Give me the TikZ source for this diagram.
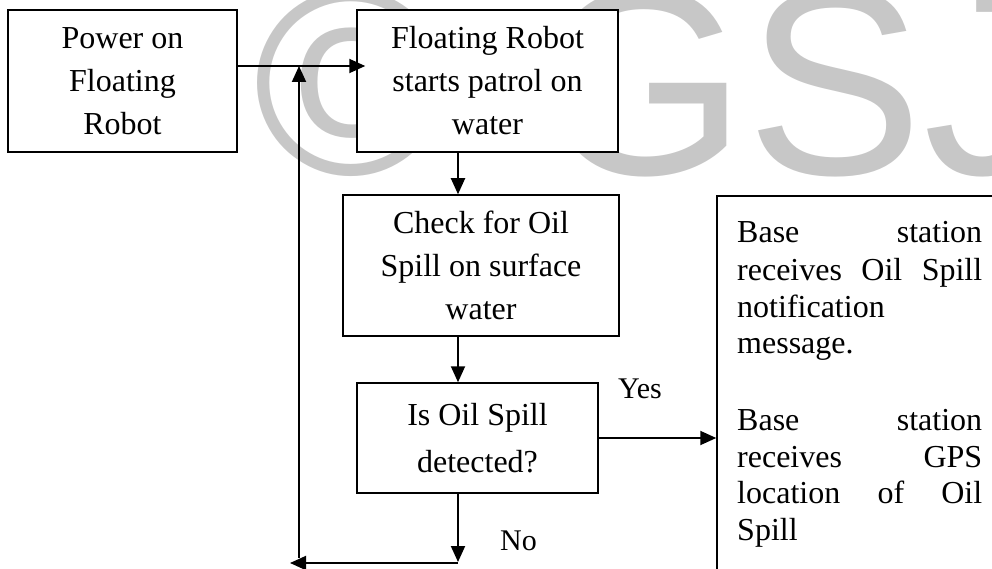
\documentclass[tikz,border=0pt]{standalone}
\usepackage{fontspec}
\setmainfont{Liberation Serif}
\newfontfamily\wmfont{Liberation Sans}
\usetikzlibrary{arrows.meta}
\begin{document}
\begin{tikzpicture}[x=1pt,y=-1pt,
  box/.style={draw, line width=1.5pt, fill=white, inner sep=0pt, align=center,
              font=\fontsize{32}{43}\selectfont},
  arr/.style={line width=1.9pt, -{Triangle[length=16pt,width=14pt]}},
  lbl/.style={inner sep=0pt, anchor=base west, font=\fontsize{30}{36}\selectfont},
  rl/.style={inner sep=0pt, anchor=base west, font=\fontsize{32}{37}\selectfont},
  wm/.style={inner sep=0pt, anchor=base west, text=black!22,
             font=\wmfont\fontsize{265}{300}\selectfont}]
\useasboundingbox (0,0) rectangle (992,569);
\clip (0,0) rectangle (992,569);
% watermark
\node[wm] (wc) at (253,175) {©};
\node[wm] (wg) at (540,175) {GSJ};
% boxes
\node[box, minimum width=229pt, minimum height=142pt] (b1) at (122.5,81) {Power on\\Floating\\Robot};
\node[box, minimum width=261pt, minimum height=142pt] (b2) at (487.5,81) {Floating Robot\\starts patrol on\\water};
\node[box, minimum width=276pt, minimum height=141pt] (b3) at (481,265.5) {Check for Oil\\Spill on surface\\water};
\node[box, minimum width=241pt, minimum height=110pt, font=\fontsize{32}{47}\selectfont] (b4) at (477.5,438) {Is Oil Spill\\detected?};
\node[box, minimum width=300pt, minimum height=400pt] (b5) at (867,396) {};
% right box text
\node[rl] (r1) at (737,243) {\makebox[245pt][s]{Base station}};
\node[rl] (r2) at (737,280) {\makebox[245pt][s]{receives Oil Spill}};
\node[rl] (r3) at (737,317) {notification};
\node[rl] (r4) at (737,353) {message.};
\node[rl] (r5) at (737,430) {\makebox[245pt][s]{Base station}};
\node[rl] (r6) at (737,467) {\makebox[245pt][s]{receives GPS}};
\node[rl] (r7) at (737,503) {\makebox[245pt][s]{location of Oil}};
\node[rl] (r8) at (737,540) {Spill};
% labels
\node[lbl] (yes) at (618,398) {Yes};
\node[lbl] (no) at (500,550) {No};
% helper coordinates
\coordinate (d1) at (458,562);
\coordinate (d2) at (290,563);
\coordinate (u1) at (299,558);
\coordinate (u2) at (299,66);
% connectors
\draw[arr, shorten >=-9pt] ([yshift=15pt]b1.east) -- ([yshift=15pt]b2.west);
\draw[arr] ([xshift=-29.5pt]b2.south) -- ([xshift=-29.5pt]b2.south |- b3.north);
\draw[arr] ([xshift=-23pt]b3.south) -- ([xshift=-23pt]b3.south |- b4.north);
\draw[arr] (b4.east) -- (b4.east -| b5.west);
\draw[arr] (b4.south -| d1) -- (d1);
\draw[arr] (d1 |- d2) -- (d2);
\draw[arr] (u1) -- (u2);
\end{tikzpicture}
\end{document}
